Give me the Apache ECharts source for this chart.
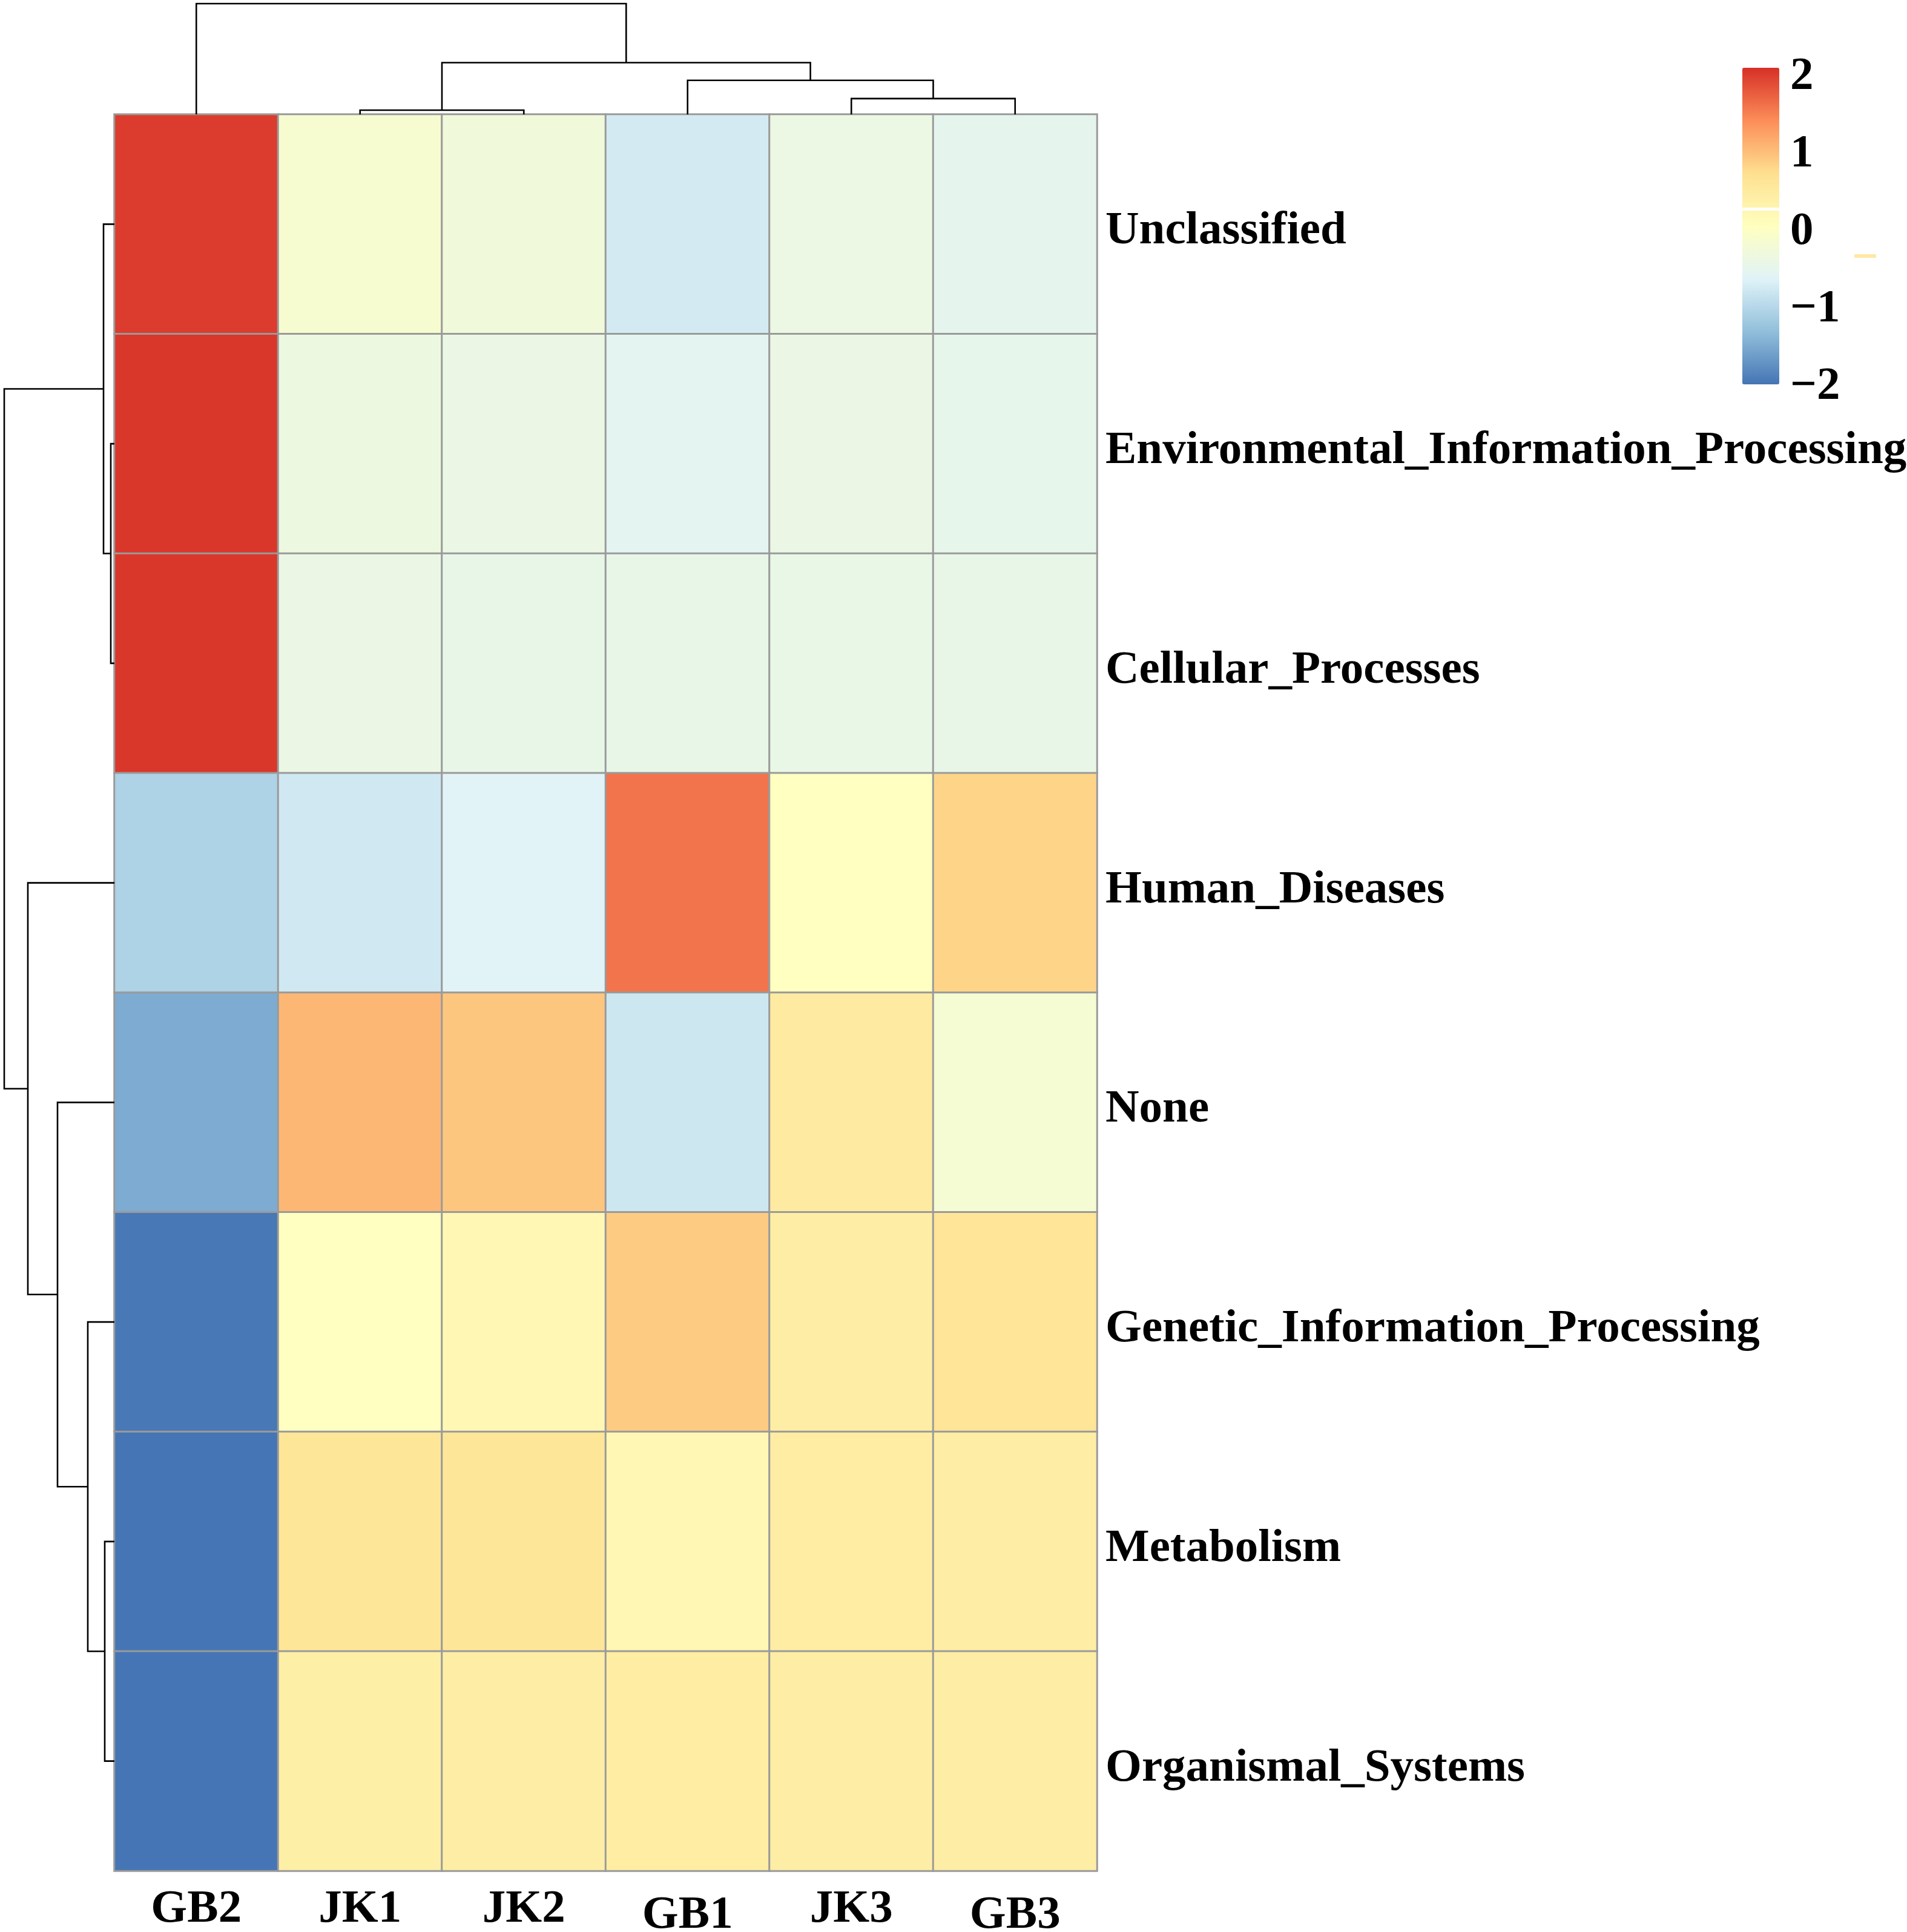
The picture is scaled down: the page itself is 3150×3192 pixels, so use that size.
<!DOCTYPE html>
<html>
<head>
<meta charset="utf-8">
<script src="https://cdn.jsdelivr.net/npm/echarts@6/dist/echarts.min.js"></script>
<style>
  html, body { margin: 0; padding: 0; background: #fff; }
  #chart { width: 3150px; height: 3192px; }
</style>
</head>
<body>
<div id="chart"></div>
<script>
// columns / rows in display (clustered) order
var colLabels = ['GB2', 'JK1', 'JK2', 'GB1', 'JK3', 'GB3'];
var rowLabels = ['Unclassified', 'Environmental_Information_Processing', 'Cellular_Processes',
  'Human_Diseases', 'None', 'Genetic_Information_Processing', 'Metabolism', 'Organismal_Systems'];

// row-scaled values (z-score), one array per row, in column order above
var zUnclassified = [2.0, -0.15, -0.28, -0.75, -0.38, -0.52];
var zEnvironmental = [2.04, -0.35, -0.40, -0.55, -0.40, -0.48];
var zCellular = [2.04, -0.40, -0.45, -0.45, -0.43, -0.45];
var zHuman = [-1.07, -0.78, -0.62, 1.59, 0.02, 0.82];
var zNone = [-1.50, 1.06, 0.94, -0.80, 0.48, -0.18];
var zGenetic = [-1.97, 0.03, 0.22, 0.90, 0.42, 0.62];
var zMetabolism = [-2.04, 0.60, 0.60, 0.22, 0.45, 0.43];
var zOrganismal = [-2.04, 0.40, 0.42, 0.45, 0.42, 0.43];

// hclust-like merges: negative = leaf (1-based display position), positive = earlier merge
var colMerge = [[-2, -3], [-5, -6], [-4, 2], [1, 3], [-1, 4]];
var colHeight = [0.35, 1.3, 2.8, 4.25, 9.1];
var rowMerge = [[-2, -3], [-7, -8], [-1, 1], [-6, 2], [-5, 4], [-4, 5], [3, 6]];
var rowHeight = [0.3, 0.8, 0.9, 2.2, 4.7, 7.15, 9.1];

// legend range, ticks every 1
var legendMin = -2;
var legendMax = 2.09;

var palette = ['#4575B4', '#91BFDB', '#E0F3F8', '#FFFFBF', '#FEE090', '#FC8D59', '#D73027'];
var font = 'Liberation Serif';
var fontSize = 77;

var rowValues = [zUnclassified, zEnvironmental, zCellular, zHuman, zNone, zGenetic, zMetabolism, zOrganismal];
var cells = [];
rowValues.forEach(function (vals, r) {
  vals.forEach(function (v, c) {
    cells.push([c, r, v]);
  });
});

function dendroSegments(merge, heights) {
  var pos = [];
  var segs = [];
  merge.forEach(function (m, i) {
    var ends = m.map(function (k) {
      return k < 0 ? [-k - 1, 0] : [pos[k - 1], heights[k - 1]];
    });
    pos[i] = (ends[0][0] + ends[1][0]) / 2;
    segs.push([ends[0][0], ends[0][1], ends[1][0], ends[1][1], heights[i]]);
  });
  return segs;
}

function dendroRender(horizontal) {
  return function (params, api) {
    var a = api.value(0), ha = api.value(1), b = api.value(2), hb = api.value(3), h = api.value(4);
    var pt = function (p, hh) {
      return horizontal ? api.coord([p, hh]) : api.coord([hh, p]);
    };
    return {
      type: 'polyline',
      shape: { points: [pt(a, ha), pt(a, h), pt(b, h), pt(b, hb)] },
      style: { stroke: '#000', lineWidth: 2.6, fill: null }
    };
  };
}

var chart = echarts.init(document.getElementById('chart'), null, { renderer: 'canvas' });

var hmLeft = 189, hmTop = 189, hmWidth = 1623, hmHeight = 2902;

var labelStyle = { fontFamily: font, fontWeight: 'bold', fontSize: fontSize, color: '#000' };
function withPad(top) {
  return Object.assign({ padding: [top, 0, 0, 0] }, labelStyle);
}

chart.setOption({
  backgroundColor: '#fff',
  animation: false,
  grid: [
    { left: hmLeft, top: hmTop, width: hmWidth, height: hmHeight, containLabel: false, outerBoundsMode: 'none' },
    { left: hmLeft, top: 6, width: hmWidth, height: 183, containLabel: false, outerBoundsMode: 'none' },
    { left: 7, top: hmTop, width: 182, height: hmHeight, containLabel: false, outerBoundsMode: 'none' },
    { left: 2878, top: 112, width: 61, height: 523, containLabel: false, outerBoundsMode: 'none' }
  ],
  xAxis: [
    {
      gridIndex: 0, type: 'category', data: colLabels, position: 'bottom',
      axisLine: { show: false }, axisTick: { show: false }, splitLine: { show: false },
      axisLabel: Object.assign({
        margin: 26, interval: 0, hideOverlap: false,
        formatter: function (v) { return v === 'GB1' || v === 'GB3' ? '{low|' + v + '}' : '{n|' + v + '}'; },
        rich: { n: withPad(0), low: withPad(10) }
      }, labelStyle)
    },
    { gridIndex: 1, type: 'value', min: -0.5, max: 5.5, show: false },
    { gridIndex: 2, type: 'value', min: 0, max: 9.1, inverse: true, show: false },
    { gridIndex: 3, type: 'value', min: 0, max: 1, show: false }
  ],
  yAxis: [
    {
      gridIndex: 0, type: 'category', data: rowLabels, inverse: true, position: 'right',
      axisLine: { show: false }, axisTick: { show: false }, splitLine: { show: false },
      axisLabel: Object.assign({
        margin: 14, interval: 0, hideOverlap: false,
        formatter: function (v) { return '{r|' + v + '}'; },
        rich: { r: withPad(24) }
      }, labelStyle)
    },
    { gridIndex: 1, type: 'value', min: 0, max: 9.1, show: false },
    { gridIndex: 2, type: 'value', min: -0.5, max: 7.5, inverse: true, show: false },
    {
      gridIndex: 3, type: 'value', min: legendMin, max: legendMax, interval: 1, position: 'right',
      axisLine: { show: false }, axisTick: { show: false }, splitLine: { show: false },
      axisLabel: Object.assign({
        margin: 18,
        formatter: function (v) { return '{r|' + String(v).replace('-', '\u2212') + '}'; },
        rich: { r: withPad(8) }
      }, labelStyle)
    }
  ],
  visualMap: {
    type: 'continuous',
    seriesIndex: 0,
    min: legendMin,
    max: legendMax,
    calculable: false,
    hoverLink: false,
    orient: 'vertical',
    left: 2878,
    top: 112,
    padding: 0,
    itemWidth: 61,
    itemHeight: 523,
    text: ['', ''],
    textGap: 0,
    textStyle: { fontSize: 1, color: 'rgba(0,0,0,0)' },
    inRange: { color: palette }
  },
  graphic: [
    { type: 'rect', shape: { x: 2878, y: 343, width: 61, height: 5 }, style: { fill: '#fff' }, z: 100 },
    { type: 'rect', shape: { x: 3063, y: 420, width: 36, height: 6 }, style: { fill: '#FDE9A6' }, z: 100 }
  ],
  series: [
    {
      type: 'heatmap',
      xAxisIndex: 0, yAxisIndex: 0,
      data: cells,
      itemStyle: { borderColor: '#9a9a9a', borderWidth: 3 },
      emphasis: { disabled: true }
    },
    {
      type: 'custom',
      xAxisIndex: 1, yAxisIndex: 1,
      data: dendroSegments(colMerge, colHeight),
      renderItem: dendroRender(true),
      clip: false
    },
    {
      type: 'custom',
      xAxisIndex: 2, yAxisIndex: 2,
      data: dendroSegments(rowMerge, rowHeight),
      renderItem: dendroRender(false),
      clip: false
    }
  ]
});
</script>
</body>
</html>
